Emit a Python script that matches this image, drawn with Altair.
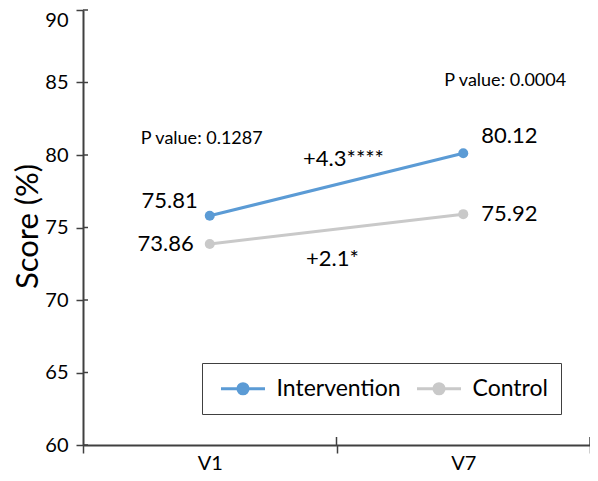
import altair as alt
import pandas as pd

# ---- data ----
visits = ["V1", "V7"]
groups = ["Intervention", "Control"]
intervention_scores = [75.81, 80.12]
control_scores = [73.86, 75.92]
p_value_labels = ["P value: 0.1287", "P value: 0.0004"]
change_labels = ["+4.3****", "+2.1*"]
y_ticks = [60, 65, 70, 75, 80, 85, 90]
colors = ["#5B9BD5", "#C9C9C9"]

rows = []
for g, scores in zip(groups, [intervention_scores, control_scores]):
    for v, s in zip(visits, scores):
        rows.append({"visit": v, "group": g, "score": s, "label": f"{s:.2f}"})
df = pd.DataFrame(rows)

pv_df = pd.DataFrame({"visit": visits, "text": p_value_labels, "score": intervention_scores})
chg_df = pd.DataFrame({
    "group": groups,
    "text": change_labels,
    "start": [intervention_scores[0], control_scores[0]],
    "end": [intervention_scores[1], control_scores[1]],
})
tick_df = pd.DataFrame({"tick": y_ticks})
edge_df = pd.DataFrame({"visit": visits})

W, H = 507, 435
FONT = "Lato"
AX = "#404040"

x_scale = alt.Scale(domain=visits, type="band", paddingInner=0, paddingOuter=0)
y_scale = alt.Scale(domain=[60, 90], nice=False, zero=False)
color_scale = alt.Scale(domain=groups, range=colors)

x_axis = alt.Axis(
    title=None, labelAngle=0, tickBand="extent", tickSize=8, tickWidth=1.5,
    tickColor=AX, domainColor=AX, domainWidth=2, labelFont=FONT,
    labelFontSize=20, labelColor="black", labelPadding=0, labelBaseline="top",
    grid=False,
)
y_axis = alt.Axis(
    title="Score (%)", values=y_ticks, tickSize=7, tickWidth=1.5, tickColor=AX,
    domainColor=AX, domainWidth=2, labelFont=FONT, labelFontSize=20,
    labelColor="black", labelPadding=8, grid=False,
    labelBaseline=alt.condition("datum.value == 90", alt.value("top"), alt.value("middle")),
    titleFont=FONT, titleFontSize=31, titleFontWeight="normal", titleColor="black",
    titleX=-55, titleY=216, titleAngle=270, titleAlign="center", titleBaseline="middle",
)

x_c = alt.X("visit:N", scale=x_scale, bandPosition=0.5, axis=x_axis)
x_edge = alt.X("visit:N", scale=x_scale, bandPosition=1, axis=x_axis)
y_s = alt.Y("score:Q", scale=y_scale, axis=y_axis)

legend_path = "M-2,0L2,0M-0.46,0A0.46,0.46,0,1,0,0.46,0A0.46,0.46,0,1,0,-0.46,0Z"
legend = alt.Legend(
    title=None, orient="none", legendX=119, legendY=353, direction="horizontal",
    strokeColor=AX, fillColor="white", padding=13, cornerRadius=0,
    symbolType=legend_path, symbolSize=484, symbolStrokeWidth=3, symbolOffset=15.5,
    labelFont=FONT, labelFontSize=23, labelColor="black", labelOffset=21,
    columnPadding=10,
)

lines = alt.Chart(df).mark_line(
    strokeWidth=3, point=alt.OverlayMarkDef(filled=True, size=100)
).encode(
    x=x_c, y=y_s,
    color=alt.Color("group:N", scale=color_scale, legend=legend),
)

def value_text(group, visit, align, dx, dy):
    return alt.Chart(df).transform_filter(
        f"datum.group == '{group}' && datum.visit == '{visit}'"
    ).mark_text(
        font=FONT, fontSize=22, color="black", align=align, baseline="middle", dx=dx, dy=dy
    ).encode(x=x_c, y=y_s, text="label:N")

val_layers = [
    value_text("Intervention", "V1", "right", -12, -15),
    value_text("Control", "V1", "right", -16, 0),
    value_text("Intervention", "V7", "left", 18, -17),
    value_text("Control", "V7", "left", 18, 0),
]

def pv_text(visit, dx, dy):
    return alt.Chart(pv_df).transform_filter(f"datum.visit == '{visit}'").mark_text(
        font=FONT, fontSize=18, color="black", align="center", baseline="middle", dx=dx, dy=dy
    ).encode(x=x_c, y=y_s, text="text:N")

pv_layers = [pv_text("V1", -8, -77), pv_text("V7", 42, -72)]

def chg_text(group, dx, dy):
    return alt.Chart(chg_df).transform_filter(f"datum.group == '{group}'").transform_calculate(
        mid="(datum.start + datum.end) / 2", visit="'V1'"
    ).mark_text(
        font=FONT, fontSize=22, color="black", align="center", baseline="middle", dx=dx, dy=dy
    ).encode(x=x_edge, y=alt.Y("mid:Q", scale=y_scale, axis=y_axis), text="text:N")

chg_layers = [chg_text("Intervention", 7, -26), chg_text("Control", -4, 30)]

# inward halves of the crossing ticks
y_in = alt.Chart(tick_df).mark_rule(color=AX, strokeWidth=1.5).encode(
    y=alt.Y("tick:Q", scale=y_scale, axis=y_axis), x=alt.value(0), x2=alt.value(5)
)
x_in = alt.Chart(edge_df).mark_rule(color=AX, strokeWidth=1.5).encode(
    x=x_edge, y=alt.value(H - 8), y2=alt.value(H)
)

chart = alt.layer(
    y_in, x_in, lines, *val_layers, *pv_layers, *chg_layers
).properties(
    width=W, height=H,
    autosize=alt.AutoSizeParams(type="none"),
    padding={"left": 75, "top": 2, "right": 0, "bottom": 28},
    background="white",
).configure_view(stroke=None)

chart.save("out.html", embed_options={"renderer": "svg", "actions": False})
